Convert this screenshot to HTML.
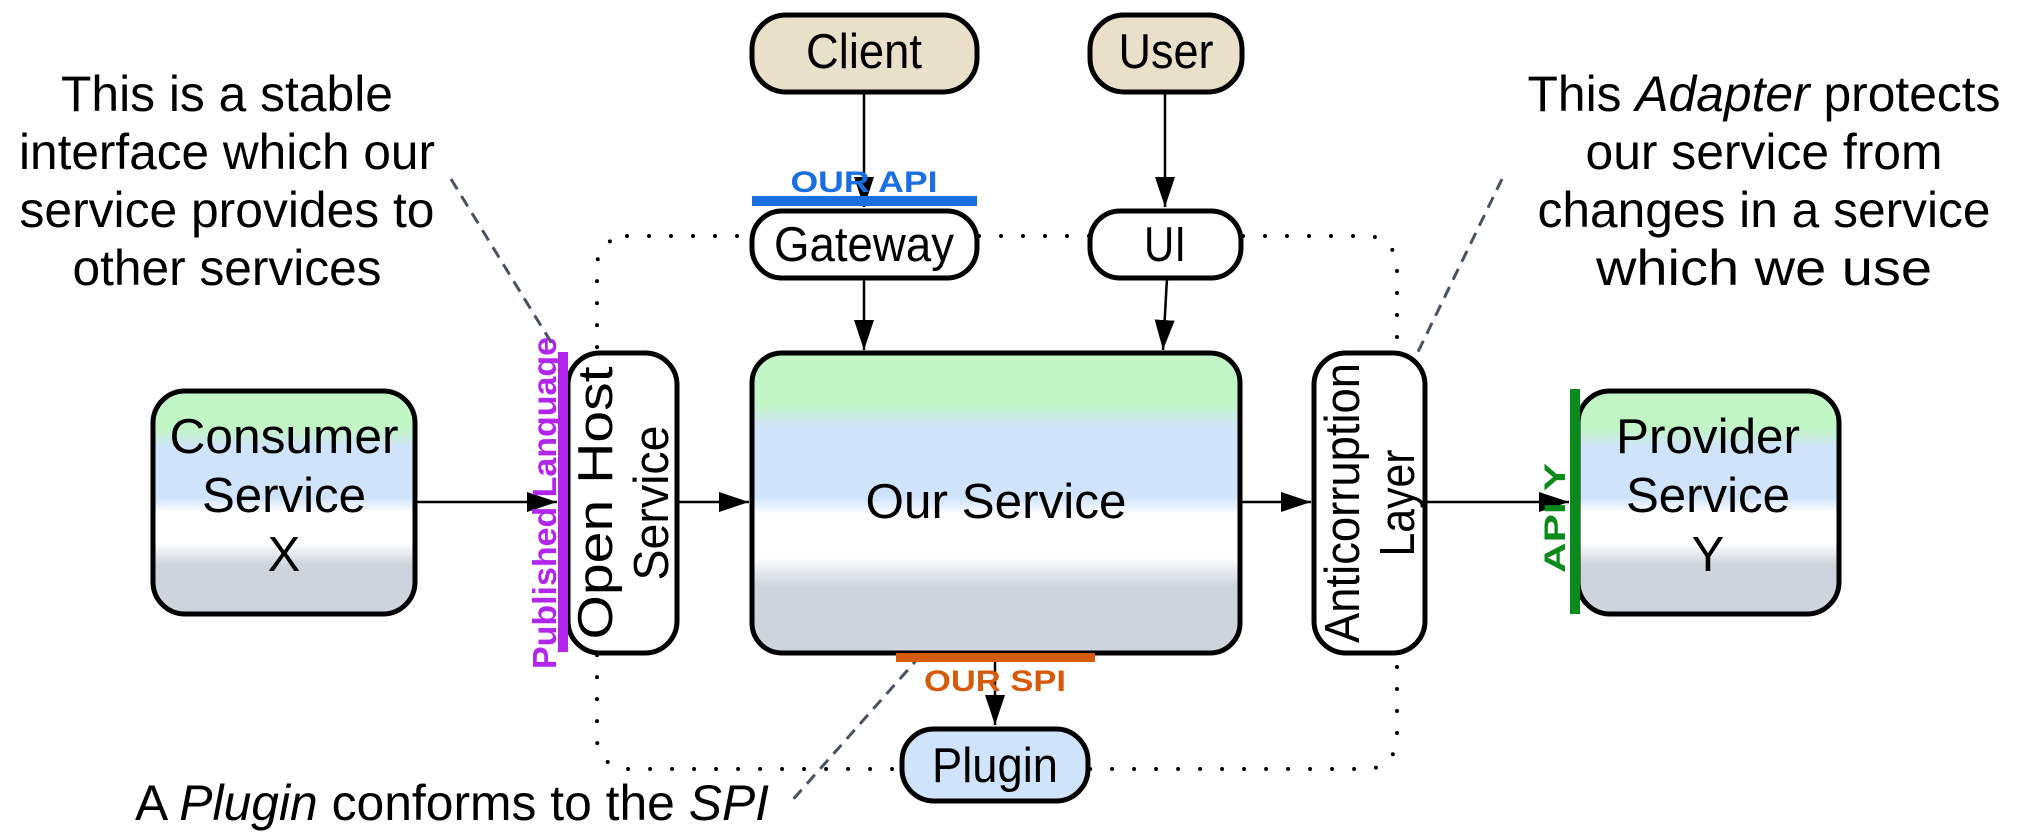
<!DOCTYPE html>
<html><head><meta charset="utf-8"><style>
html,body{margin:0;padding:0;background:#fff;}
svg{display:block;font-family:"Liberation Sans",sans-serif;}
</style></head><body>
<svg width="2019" height="838" viewBox="0 0 2019 838" xmlns="http://www.w3.org/2000/svg">
<defs>
<linearGradient id="g" x1="0" y1="0" x2="0" y2="1">
<stop offset="0" stop-color="#c3f4c6"/><stop offset="0.17" stop-color="#c3f4c6"/>
<stop offset="0.25" stop-color="#cfe3fb"/><stop offset="0.48" stop-color="#cfe3fb"/>
<stop offset="0.54" stop-color="#ffffff"/><stop offset="0.68" stop-color="#ffffff"/>
<stop offset="0.78" stop-color="#cdd4dc"/><stop offset="1" stop-color="#cdd4dc"/>
</linearGradient>
<marker id="b" markerWidth="30" markerHeight="20" refX="30" refY="10" orient="auto" markerUnits="userSpaceOnUse"><path d="M0,0 L30,10 L0,20z" fill="#000"/></marker>
</defs>
<rect x="597" y="236" width="800" height="533" rx="30" fill="none" stroke="#000" stroke-width="4" stroke-linecap="round" stroke-dasharray="0 22"/>
<g stroke="#4a5260" stroke-width="3" stroke-dasharray="12 8">
<line x1="451" y1="179" x2="554" y2="347"/>
<line x1="1502" y1="179" x2="1415" y2="358"/>
<line x1="921" y1="655" x2="789" y2="804"/>
</g>
<g stroke="#000" stroke-width="2.5" fill="none">
<line x1="864" y1="93" x2="864" y2="207" marker-end="url(#b)"/>
<line x1="864" y1="278" x2="864" y2="350" marker-end="url(#b)"/>
<line x1="1165" y1="93" x2="1165" y2="207" marker-end="url(#b)"/>
<line x1="1167" y1="278" x2="1163" y2="350" marker-end="url(#b)"/>
<line x1="415" y1="502" x2="557" y2="502" marker-end="url(#b)"/>
<line x1="677" y1="502" x2="749" y2="502" marker-end="url(#b)"/>
<line x1="1240" y1="502" x2="1311" y2="502" marker-end="url(#b)"/>
<line x1="1425" y1="502" x2="1569" y2="502" marker-end="url(#b)"/>
<line x1="995" y1="661" x2="995" y2="725" marker-end="url(#b)"/>
</g>
<g stroke="#000" stroke-width="5">
<rect x="752" y="15" width="225" height="77" rx="34" fill="#e8e0c9"/>
<rect x="1090" y="15" width="152" height="77" rx="34" fill="#e8e0c9"/>
<rect x="752" y="211" width="225" height="67" rx="30" fill="#fff"/>
<rect x="1090" y="211" width="151" height="67" rx="30" fill="#fff"/>
<rect x="752" y="353" width="488" height="300" rx="30" fill="url(#g)"/>
<rect x="568" y="353" width="109" height="300" rx="32" fill="#fff"/>
<rect x="1314" y="353" width="111" height="300" rx="32" fill="#fff"/>
<rect x="153" y="391" width="262" height="223" rx="32" fill="url(#g)"/>
<rect x="1578" y="391" width="261" height="223" rx="32" fill="url(#g)"/>
<rect x="902" y="729" width="186" height="72" rx="32" fill="#cfe3fb"/>
</g>
<rect x="752" y="196" width="225" height="10" fill="#1a6fe0"/>
<rect x="558" y="352" width="10" height="300" fill="#b225ea"/>
<rect x="1570" y="389" width="10" height="225" fill="#0a8a1a"/>
<rect x="896" y="653" width="199" height="9" fill="#d65a0c"/>
<g font-size="49" text-anchor="middle" fill="#000" lengthAdjust="spacingAndGlyphs">
<text x="864" y="68" textLength="116" lengthAdjust="spacingAndGlyphs">Client</text>
<text x="1166" y="68" textLength="95" lengthAdjust="spacingAndGlyphs">User</text>
<text x="864" y="261" textLength="180" lengthAdjust="spacingAndGlyphs">Gateway</text>
<text x="1165" y="261" textLength="42" lengthAdjust="spacingAndGlyphs">UI</text>
<text x="996" y="518" textLength="261" lengthAdjust="spacingAndGlyphs">Our Service</text>
<text x="995" y="782" textLength="126" lengthAdjust="spacingAndGlyphs">Plugin</text>
<text x="284" y="453" textLength="229" lengthAdjust="spacingAndGlyphs">Consumer</text>
<text x="284" y="512" textLength="164" lengthAdjust="spacingAndGlyphs">Service</text>
<text x="284" y="571">X</text>
<text x="1708" y="453" textLength="184" lengthAdjust="spacingAndGlyphs">Provider</text>
<text x="1708" y="512" textLength="164" lengthAdjust="spacingAndGlyphs">Service</text>
<text x="1708" y="571">Y</text>
<text transform="translate(612,503) rotate(-90)" textLength="273" lengthAdjust="spacingAndGlyphs">Open Host</text>
<text transform="translate(668,503) rotate(-90)" textLength="155" lengthAdjust="spacingAndGlyphs">Service</text>
<text transform="translate(1359,503) rotate(-90)" textLength="280" lengthAdjust="spacingAndGlyphs">Anticorruption</text>
<text transform="translate(1414,503) rotate(-90)" textLength="107" lengthAdjust="spacingAndGlyphs">Layer</text>
</g>
<g font-weight="bold" text-anchor="middle">
<text x="864" y="192" font-size="30" fill="#1a6fe0" textLength="147" lengthAdjust="spacingAndGlyphs">OUR API</text>
<text x="995" y="691" font-size="30" fill="#d65a0c" textLength="142" lengthAdjust="spacingAndGlyphs">OUR SPI</text>
<text transform="translate(556,503) rotate(-90)" font-size="33" fill="#b225ea" textLength="332" lengthAdjust="spacingAndGlyphs">Published Language</text>
<text transform="translate(1565,518) rotate(-90)" font-size="30" fill="#0a8a1a" textLength="110" lengthAdjust="spacingAndGlyphs">API Y</text>
</g>
<g font-size="50" text-anchor="middle" fill="#000">
<text x="227" y="111" textLength="332" lengthAdjust="spacingAndGlyphs">This is a stable</text>
<text x="227" y="169" textLength="416" lengthAdjust="spacingAndGlyphs">interface which our</text>
<text x="227" y="227" textLength="415" lengthAdjust="spacingAndGlyphs">service provides to</text>
<text x="227" y="285" textLength="309" lengthAdjust="spacingAndGlyphs">other services</text>
<text x="1764" y="111" textLength="473" lengthAdjust="spacingAndGlyphs">This <tspan font-style="italic">Adapter</tspan> protects</text>
<text x="1764" y="169" textLength="357" lengthAdjust="spacingAndGlyphs">our service from</text>
<text x="1764" y="227" textLength="453" lengthAdjust="spacingAndGlyphs">changes in a service</text>
<text x="1764" y="285" textLength="336" lengthAdjust="spacingAndGlyphs">which we use</text>
<text x="452" y="820" textLength="634" lengthAdjust="spacingAndGlyphs">A <tspan font-style="italic">Plugin</tspan> conforms to the <tspan font-style="italic">SPI</tspan></text>
</g>
</svg>
</body></html>
